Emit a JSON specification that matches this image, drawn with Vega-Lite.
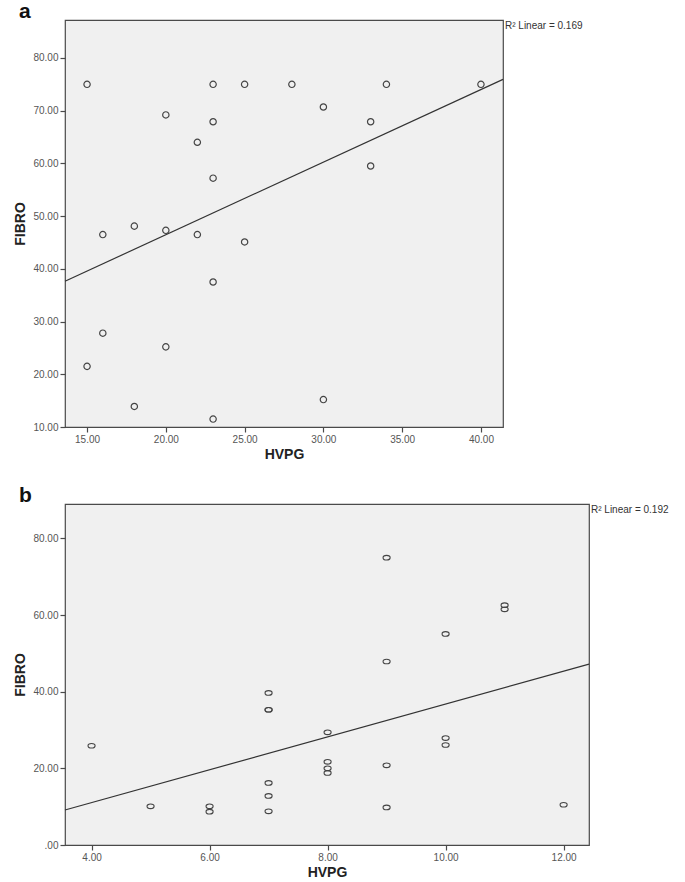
{
  "$schema": "https://vega.github.io/schema/vega-lite/v6.json",
  "padding": {"left": 13, "top": 0, "right": 0, "bottom": 0},
  "background": "white",
  "spacing": 22,
  "config": {
    "font": "Liberation Sans",
    "view": {"fill": "#f0f0f0", "stroke": "#4a4a4a", "strokeWidth": 1.2},
    "axis": {"grid": false, "domain": false, "ticks": true, "tickColor": "#4a4a4a", "tickSize": 5, "tickWidth": 1.2, "labelFont": "Liberation Sans", "labelFontSize": 10, "labelColor": "#555555", "labelPadding": 2, "titleFont": "Liberation Sans", "titleFontSize": 14, "titleFontWeight": "bold", "titleColor": "#222222"},
    "axisY": {"titlePadding": 5},
    "axisX": {"titlePadding": 3},
    "title": {"fontSize": 21, "fontWeight": "bold", "anchor": "start", "color": "#111111", "offset": -2, "font": "Liberation Sans", "frame": "group"}
  },
  "datasets": {
    "a": [
      {"HVPG": 15, "FIBRO": 75.0}, {"HVPG": 23, "FIBRO": 75.0}, {"HVPG": 25, "FIBRO": 75.0},
      {"HVPG": 28, "FIBRO": 75.0}, {"HVPG": 34, "FIBRO": 75.0}, {"HVPG": 40, "FIBRO": 75.0},
      {"HVPG": 20, "FIBRO": 69.2}, {"HVPG": 23, "FIBRO": 67.9}, {"HVPG": 22, "FIBRO": 64.0},
      {"HVPG": 30, "FIBRO": 70.7}, {"HVPG": 33, "FIBRO": 67.9}, {"HVPG": 33, "FIBRO": 59.5},
      {"HVPG": 23, "FIBRO": 57.2}, {"HVPG": 16, "FIBRO": 46.5}, {"HVPG": 18, "FIBRO": 48.1},
      {"HVPG": 20, "FIBRO": 47.3}, {"HVPG": 22, "FIBRO": 46.5}, {"HVPG": 25, "FIBRO": 45.1},
      {"HVPG": 23, "FIBRO": 37.5}, {"HVPG": 16, "FIBRO": 27.8}, {"HVPG": 20, "FIBRO": 25.2},
      {"HVPG": 15, "FIBRO": 21.5}, {"HVPG": 18, "FIBRO": 13.9}, {"HVPG": 23, "FIBRO": 11.5},
      {"HVPG": 30, "FIBRO": 15.2}
    ],
    "b": [
      {"HVPG": 4, "FIBRO": 25.9}, {"HVPG": 5, "FIBRO": 10.1}, {"HVPG": 6, "FIBRO": 10.1},
      {"HVPG": 6, "FIBRO": 8.7}, {"HVPG": 7, "FIBRO": 39.7}, {"HVPG": 7, "FIBRO": 35.3},
      {"HVPG": 7, "FIBRO": 35.3}, {"HVPG": 7, "FIBRO": 16.2}, {"HVPG": 7, "FIBRO": 12.8},
      {"HVPG": 7, "FIBRO": 8.8}, {"HVPG": 8, "FIBRO": 29.4}, {"HVPG": 8, "FIBRO": 21.7},
      {"HVPG": 8, "FIBRO": 20.0}, {"HVPG": 8, "FIBRO": 18.8}, {"HVPG": 9, "FIBRO": 75.0},
      {"HVPG": 9, "FIBRO": 47.9}, {"HVPG": 9, "FIBRO": 20.8}, {"HVPG": 9, "FIBRO": 9.8},
      {"HVPG": 10, "FIBRO": 55.1}, {"HVPG": 10, "FIBRO": 27.9}, {"HVPG": 10, "FIBRO": 26.1},
      {"HVPG": 11, "FIBRO": 62.6}, {"HVPG": 11, "FIBRO": 61.5}, {"HVPG": 12, "FIBRO": 10.5}
    ]
  },
  "vconcat": [
    {
      "title": {"text": "a", "dx": -46},
      "width": 438,
      "height": 407,
      "layer": [
        {
          "data": {"name": "a"},
          "mark": {"type": "point", "shape": "circle", "size": 40, "filled": false, "color": "#444444", "strokeWidth": 1.2, "opacity": 1},
          "encoding": {
            "x": {"field": "HVPG", "type": "quantitative", "title": "HVPG", "scale": {"domain": [13.6, 41.4], "nice": false, "zero": false}, "axis": {"values": [15, 20, 25, 30, 35, 40], "labelExpr": "format(datum.value, '.2f')"}},
            "y": {"field": "FIBRO", "type": "quantitative", "title": "FIBRO", "scale": {"domain": [10, 87.2], "nice": false, "zero": false}, "axis": {"values": [10, 20, 30, 40, 50, 60, 70, 80], "labelExpr": "format(datum.value, '.2f')"}}
          }
        },
        {
          "data": {"name": "a"},
          "transform": [{"regression": "FIBRO", "on": "HVPG", "extent": [13.6, 41.4]}],
          "mark": {"type": "line", "color": "#333333", "strokeWidth": 1.2},
          "encoding": {
            "x": {"field": "HVPG", "type": "quantitative", "scale": {"domain": [13.6, 41.4], "nice": false, "zero": false}},
            "y": {"field": "FIBRO", "type": "quantitative", "scale": {"domain": [10, 87.2], "nice": false, "zero": false}}
          }
        },
        {
          "data": {"values": [{}]},
          "mark": {"type": "text", "text": "R² Linear = 0.169", "align": "left", "baseline": "top", "dx": 2, "dy": 1, "fontSize": 10, "color": "#333333"},
          "encoding": {
            "x": {"datum": 41.4, "type": "quantitative"},
            "y": {"datum": 87.2, "type": "quantitative"}
          }
        }
      ]
    },
    {
      "title": {"text": "b", "dx": -46},
      "width": 524,
      "height": 341,
      "layer": [
        {
          "data": {"name": "b"},
          "mark": {"type": "point", "shape": "M-1,0A1,0.65 0 1,1 1,0A1,0.65 0 1,1 -1,0Z", "size": 50, "filled": false, "color": "#444444", "strokeWidth": 1.1, "opacity": 1},
          "encoding": {
            "x": {"field": "HVPG", "type": "quantitative", "title": "HVPG", "scale": {"domain": [3.55, 12.43], "nice": false, "zero": false}, "axis": {"values": [4, 6, 8, 10, 12], "labelExpr": "format(datum.value, '.2f')"}},
            "y": {"field": "FIBRO", "type": "quantitative", "title": "FIBRO", "scale": {"domain": [0, 89], "nice": false, "zero": false}, "axis": {"values": [0, 20, 40, 60, 80], "labelExpr": "datum.value == 0 ? '.00' : format(datum.value, '.2f')"}}
          }
        },
        {
          "data": {"name": "b"},
          "transform": [{"regression": "FIBRO", "on": "HVPG", "extent": [3.55, 12.43]}],
          "mark": {"type": "line", "color": "#333333", "strokeWidth": 1.2},
          "encoding": {
            "x": {"field": "HVPG", "type": "quantitative", "scale": {"domain": [3.55, 12.43], "nice": false, "zero": false}},
            "y": {"field": "FIBRO", "type": "quantitative", "scale": {"domain": [0, 89], "nice": false, "zero": false}}
          }
        },
        {
          "data": {"values": [{}]},
          "mark": {"type": "text", "text": "R² Linear = 0.192", "align": "left", "baseline": "top", "dx": 2, "dy": 1, "fontSize": 10, "color": "#333333"},
          "encoding": {
            "x": {"datum": 12.43, "type": "quantitative"},
            "y": {"datum": 89, "type": "quantitative"}
          }
        }
      ]
    }
  ]
}
